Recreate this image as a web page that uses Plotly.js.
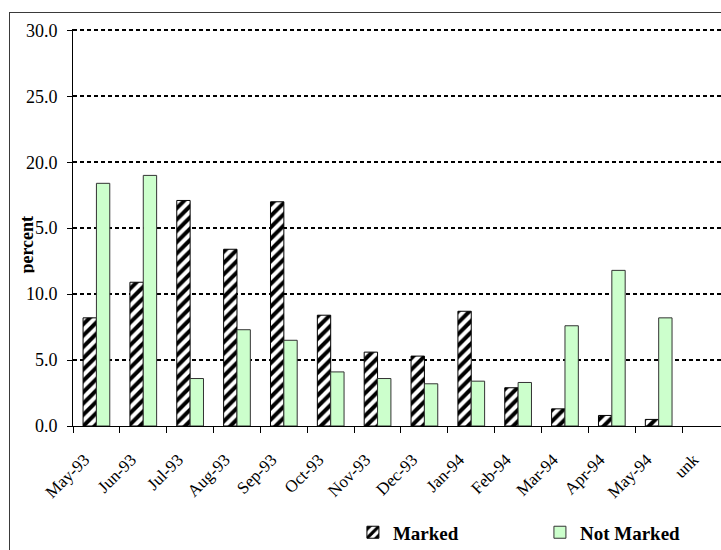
<!DOCTYPE html>
<html>
<head>
<meta charset="utf-8">
<script src="https://cdn.plot.ly/plotly-3.0.1.min.js"></script>
<style>
  html, body { margin: 0; padding: 0; background: #fff; overflow: hidden; }
  #wrap { position: relative; width: 721px; height: 550px; overflow: hidden; }
  #frame { position: absolute; left: 9px; top: 12px; width: 900px; height: 900px;
           border: 1.5px solid #3a3a3a; box-sizing: border-box; pointer-events: none; }
  #chart { position: absolute; left: 0; top: 0; width: 721px; height: 550px; }
</style>
</head>
<body>
<div id="wrap">
  <div id="chart"></div>
  <div id="frame"></div>
</div>
<script>
// Monthly shares (percent) of marked and unmarked records
const months = ["May-93", "Jun-93", "Jul-93", "Aug-93", "Sep-93", "Oct-93", "Nov-93",
                "Dec-93", "Jan-94", "Feb-94", "Mar-94", "Apr-94", "May-94", "unk"];
const marked    = [8.2, 10.9, 17.1, 13.4, 17.0, 8.4, 5.6, 5.3, 8.7, 2.9, 1.3, 0.8, 0.5, null];
const notMarked = [18.4, 19.0, 3.6, 7.3, 6.5, 4.1, 3.6, 3.2, 3.4, 3.3, 7.6, 11.8, 8.2, null];
const yTicks = [0, 5, 10, 15, 20, 25, 30];

const serif = "Liberation Serif, Times New Roman, Times, serif";

const traces = [
  {
    type: "bar",
    name: "Marked",
    x: months,
    y: marked,
    marker: {
      color: "#ffffff",
      line: { color: "#000000", width: 1 },
      pattern: { shape: "/", fgcolor: "#000000", bgcolor: "#ffffff", size: 8, solidity: 0.5 }
    },
    hoverinfo: "x+y"
  },
  {
    type: "bar",
    name: "Not Marked",
    x: months,
    y: notMarked,
    marker: {
      color: "#ccffcc",
      line: { color: "#333333", width: 1 }
    },
    hoverinfo: "x+y"
  }
];

const layout = {
  width: 721,
  height: 550,
  margin: { l: 73, r: 0, t: 29, b: 124, pad: 0, autoexpand: false },
  paper_bgcolor: "#ffffff",
  plot_bgcolor: "#ffffff",
  font: { family: serif, size: 18, color: "#000000" },
  barmode: "group",
  bargap: 0.43,
  bargroupgap: 0,
  showlegend: true,
  legend: {
    orientation: "h",
    x: 0.432, xanchor: "left",
    y: -0.268, yanchor: "middle",
    font: { family: serif, size: 19, color: "#000000", weight: "bold" },
    entrywidth: 142,
    entrywidthmode: "pixels",
    bgcolor: "rgba(0,0,0,0)"
  },
  xaxis: {
    type: "category",
    range: [-0.5, 13.33],
    automargin: false,
    showgrid: false,
    zeroline: false,
    showline: true,
    linecolor: "#000000",
    linewidth: 1,
    ticks: "outside",
    tickson: "boundaries",
    ticklen: 6,
    tickwidth: 1,
    tickcolor: "#000000",
    tickangle: -45,
    ticklabelstandoff: 16,
    ticklabelshift: -12,
    tickfont: { family: serif, size: 17, color: "#000000" },
    fixedrange: true
  },
  yaxis: {
    range: [0, 30.1],
    automargin: false,
    tickvals: yTicks,
    tickformat: ".1f",
    showgrid: true,
    gridcolor: "#000000",
    gridwidth: 2,
    griddash: "4px,3px",
    zeroline: false,
    showline: true,
    linecolor: "#000000",
    linewidth: 1,
    ticks: "outside",
    ticklen: 5,
    tickwidth: 1,
    tickcolor: "#000000",
    ticklabelstandoff: 6,
    tickfont: { family: serif, size: 18, color: "#000000" },
    fixedrange: true
  },
  annotations: [
    {
      text: "<b>percent</b>",
      xref: "paper", yref: "paper",
      x: -0.071, y: 0.457,
      xanchor: "center", yanchor: "middle",
      textangle: -90,
      showarrow: false,
      bgcolor: "#ffffff",
      height: 14,
      borderpad: 0,
      font: { family: serif, size: 18, color: "#000000" }
    }
  ]
};

Plotly.newPlot("chart", traces, layout, { displayModeBar: false, staticPlot: true });
</script>
</body>
</html>
